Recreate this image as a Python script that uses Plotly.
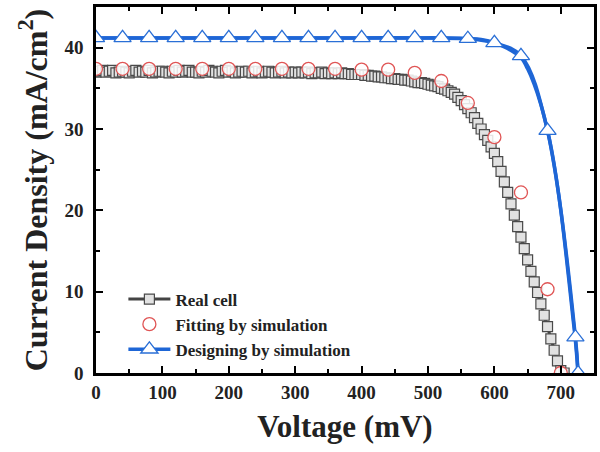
import plotly.graph_objects as go

# Real cell (measured), V in mV, J in mA/cm^2
real_v = list(range(0, 710, 5))
real_j = [37.0, 37.1, 37.2, 37.0, 37.1, 37.2, 36.9, 37.0, 37.1, 37.0, 36.9, 37.1, 37.2, 37.0, 37.1, 37.0, 37.2, 36.9, 37.0, 37.1,
          37.1, 37.0, 36.9, 37.1, 37.0, 37.2, 37.0, 37.1, 37.2, 37.0, 37.0, 36.9, 37.1, 37.0, 37.2, 37.1, 37.0, 36.9, 37.1, 37.2,
          37.0, 37.1, 36.9, 37.0, 37.1, 37.0, 37.1, 36.9, 37.0, 37.1, 36.9, 37.0, 37.1, 37.0, 36.9, 37.0, 37.1, 36.9, 37.0, 36.9,
          37.0, 36.9, 37.0, 36.9, 37.0, 36.8, 36.9, 36.9, 37.0, 36.8, 36.9, 36.8, 36.9, 36.8, 36.9, 36.8, 36.8, 36.7, 36.7, 36.7,
          36.7, 36.6, 36.6, 36.5, 36.5, 36.4, 36.4, 36.3, 36.3, 36.2, 36.2, 36.1, 36.1, 36.0, 36.0, 35.9, 35.8, 35.7, 35.7, 35.6,
          35.5, 35.4, 35.3, 35.2, 35.0, 34.9, 34.7, 34.5, 34.3, 33.9, 33.5, 33.0, 32.5, 32.0, 31.4, 30.7, 30.0, 29.3, 28.6, 27.8,
          27.0, 26.0, 24.8, 23.5, 22.2, 20.8, 19.4, 18.0, 16.7, 15.3, 13.9, 12.5, 11.2, 9.9, 8.5, 7.1, 5.7, 4.2, 2.8, 1.5,
          0.3, 0.0]

# Fitting by simulation
fit_v = [0, 40, 80, 120, 160, 200, 240, 280, 320, 360, 400, 440, 480, 520, 560, 600, 640, 680, 700]
fit_j = [37.4, 37.4, 37.4, 37.4, 37.4, 37.4, 37.4, 37.4, 37.4, 37.4, 37.3, 37.3, 36.9, 35.9, 33.2, 29.0, 22.2, 10.3, 0.0]

# Designing by simulation (marker points)
des_v = [0, 40, 80, 120, 160, 200, 240, 280, 320, 360, 400, 440, 480, 520, 560, 600, 640, 680, 722, 726]
des_j = [41.2, 41.2, 41.2, 41.2, 41.2, 41.2, 41.2, 41.2, 41.2, 41.2, 41.2, 41.2, 41.2, 41.2, 41.1, 40.6, 39.0, 29.8, 4.4, 0.0]

# Designing curve (smooth line)
des_line_v = [0, 100, 200, 300, 400, 500, 560, 580, 600, 615, 630, 640, 650, 660, 670, 680, 690, 700, 710, 718, 722, 726]
des_line_j = [41.2, 41.2, 41.2, 41.2, 41.2, 41.2, 41.1, 41.0, 40.6, 40.1, 39.4, 38.8, 37.4, 35.5, 33.0, 29.8, 25.5, 20.0, 13.0, 7.0, 4.0, 0.0]

x_ticks = [0, 100, 200, 300, 400, 500, 600, 700]
y_ticks = [0, 10, 20, 30, 40]

font_family = "Liberation Serif"

fig = go.Figure()

fig.add_trace(go.Scatter(
    x=real_v, y=real_j, mode="lines+markers", name="<b>Real cell</b>",
    line=dict(color="#444444", width=3),
    marker=dict(symbol="square", size=10, color="#e2e2e2",
                line=dict(color="#4a4a4a", width=1.2)),
))
fig.add_trace(go.Scatter(
    x=fit_v, y=fit_j, mode="markers", name="<b>Fitting by simulation</b>",
    marker=dict(symbol="circle", size=13, color="rgba(255,255,255,0.85)",
                line=dict(color="#e05555", width=1.3)),
))
fig.add_trace(go.Scatter(
    x=des_line_v, y=des_line_j, mode="lines", line=dict(color="#1e66d6", width=3.5, shape="spline"),
    showlegend=False, hoverinfo="skip",
))
fig.add_trace(go.Scatter(
    x=des_v, y=des_j, mode="markers+lines", name="<b>Designing by simulation</b>",
    line=dict(color="#1e66d6", width=3.5, shape="spline"),
    marker=dict(symbol="triangle-up", size=15, color="white",
                line=dict(color="#2a6fd6", width=1.3)),
))

axis_common = dict(
    showline=True, linecolor="black", linewidth=2.5, mirror="ticks",
    ticks="inside", ticklen=7, tickwidth=2, tickcolor="black",
    showgrid=False, zeroline=False,
    tickfont=dict(family=font_family, size=19, color="#222222"),
    minor=dict(ticks="inside", ticklen=4, tickwidth=2, tickcolor="black"),
)

fig.update_xaxes(
    range=[0, 750], tickvals=x_ticks,
    ticktext=["<b>%d</b>" % v for v in x_ticks],
    minor_dtick=50,
    title=dict(text="<b>Voltage (mV)</b>", font=dict(family=font_family, size=31, color="#222222"), standoff=14),
    **axis_common,
)
fig.update_yaxes(
    range=[0, 45], tickvals=y_ticks,
    ticktext=["<b>%d</b>" % v for v in y_ticks],
    minor_dtick=5,
    title=dict(text="<b>Current Density (mA/cm<sup>2</sup>)</b>", font=dict(family=font_family, size=32, color="#222222"), standoff=8),
    ticklabelstandoff=6,
    **axis_common,
)

fig.update_layout(
    width=600, height=452,
    margin=dict(l=96, r=3, t=7, b=79),
    paper_bgcolor="white", plot_bgcolor="white",
    showlegend=True,
    legend=dict(x=0.055, y=0.015, xanchor="left", yanchor="bottom",
                bgcolor="rgba(0,0,0,0)", borderwidth=0,
                font=dict(family=font_family, size=17, color="#222222"),
                tracegroupgap=0, itemwidth=42),
)

fig.write_html("out.html")
